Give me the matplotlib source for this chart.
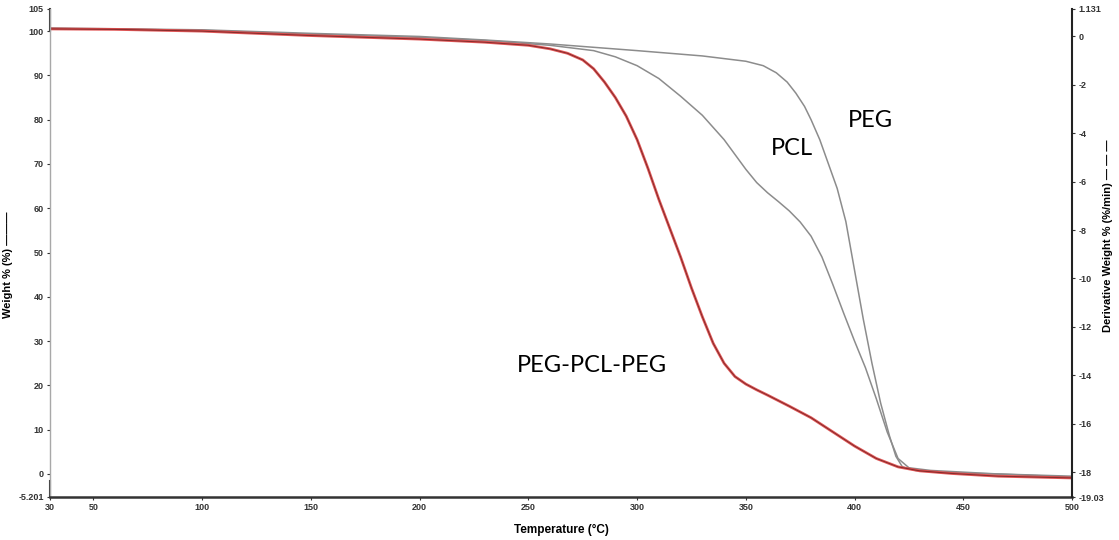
import numpy as np
import matplotlib
matplotlib.use("Agg")
import matplotlib.pyplot as plt

plt.rcParams['font.family'] = ['Liberation Sans', 'DejaVu Sans']
plt.rcParams['axes.unicode_minus'] = False

# TGA weight loss curves, temperature (°C) vs weight (%)
t_copolymer = [30, 60, 100, 150, 200, 230, 250, 260, 268, 275, 280, 285, 290,
               295, 300, 305, 310, 315, 320, 325, 330, 335, 340, 345, 350, 355,
               360, 370, 380, 390, 400, 410, 420, 430, 445, 466, 500]
w_copolymer = [100.5, 100.4, 100.0, 99.0, 98.2, 97.5, 96.8, 96.0, 95.0, 93.5,
               91.5, 88.5, 85.0, 80.8, 75.5, 69.0, 62.0, 55.5, 49.0, 42.0, 35.5,
               29.5, 25.0, 22.0, 20.3, 19.0, 17.8, 15.3, 12.7, 9.5, 6.3, 3.5,
               1.6, 0.7, 0.1, -0.5, -0.9]

t_pcl = [30, 100, 150, 200, 230, 260, 280, 290, 300, 310, 320, 330, 340, 350,
         355, 360, 365, 370, 375, 380, 385, 390, 395, 400, 405, 410, 415, 420,
         425, 435, 466, 500]
w_pcl = [100.6, 100.2, 99.3, 98.6, 97.9, 96.8, 95.6, 94.2, 92.2, 89.3, 85.3,
         81.0, 75.5, 68.8, 65.8, 63.5, 61.5, 59.4, 56.9, 53.7, 49.0, 42.8,
         36.3, 30.0, 24.0, 17.0, 9.5, 3.5, 1.4, 0.8, 0.0, -0.7]

t_peg = [30, 100, 150, 200, 230, 260, 300, 330, 350, 358, 364, 369, 373, 377,
         380, 384, 388, 392, 396, 400, 404, 408, 412, 416, 419, 422, 428, 440,
         466, 500]
w_peg = [100.7, 100.3, 99.5, 98.8, 98.0, 97.1, 95.6, 94.4, 93.2, 92.2, 90.6,
         88.5, 86.0, 83.0, 80.0, 75.5, 70.0, 64.5, 57.0, 46.0, 35.0, 25.0,
         16.0, 8.7, 4.0, 1.6, 0.8, 0.3, 0.0, -0.5]

x_ticks = [30, 50, 100, 150, 200, 250, 300, 350, 400, 450, 500]
w_ticks = [-5.201, 0, 10, 20, 30, 40, 50, 60, 70, 80, 90, 100, 105]
w_labels = ['-5.201', '0', '10', '20', '30', '40', '50', '60', '70', '80', '90', '100', '105']
d_ticks = [-19.03, -18, -16, -14, -12, -10, -8, -6, -4, -2, 0, 1.131]
d_labels = ['-19.03', '-18', '-16', '-14', '-12', '-10', '-8', '-6', '-4', '-2', '0', '1.131']

fig = plt.figure(figsize=(11.19, 5.40), dpi=100)
ax = fig.add_axes([50 / 1119, 43 / 540, 1022 / 1119, 488 / 540])

ax.plot(t_peg, w_peg, color='#8c8c8c', lw=1.1)
ax.plot(t_pcl, w_pcl, color='#8c8c8c', lw=1.1)
ax.plot(t_copolymer, w_copolymer, color='#dd4444', lw=2.0, alpha=0.9)
ax.plot(t_copolymer, w_copolymer, color='#7a2626', lw=0.6)

ax.set_xlim(30, 500)
ax.set_ylim(-5.201, 105)
ax.set_xticks(x_ticks)
ax.set_yticks(w_ticks)
ax.set_yticklabels(w_labels)

ax.spines['top'].set_visible(False)
ax.spines['right'].set_visible(False)
ax.spines['left'].set_color('#a8a8a8')
ax.spines['left'].set_linewidth(1.0)
ax.spines['bottom'].set_color('#333333')
ax.spines['bottom'].set_linewidth(1.8)

# axis-break marks at the ends of the weight axis
ax.plot([30, 30], [100, 105], color='#333333', lw=1.5, clip_on=False)
ax.plot([30, 30], [-5.201, -1.5], color='#333333', lw=1.5, clip_on=False)

ax.tick_params(axis='both', direction='out', length=2.5, width=0.8,
               labelsize=6.5, pad=2, colors='#333333')
for lbl in ax.get_xticklabels() + ax.get_yticklabels():
    lbl.set_fontweight('bold')

ax2 = ax.twinx()
ax2.set_ylim(-19.03, 1.131)
ax2.set_yticks(d_ticks)
ax2.set_yticklabels(d_labels)
for side in ['top', 'left', 'bottom']:
    ax2.spines[side].set_visible(False)
ax2.spines['right'].set_color('#222222')
ax2.spines['right'].set_linewidth(1.5)
ax2.tick_params(axis='y', direction='out', length=2.5, width=0.8,
                labelsize=6.5, pad=2, colors='#333333')
for lbl in ax2.get_yticklabels():
    lbl.set_fontweight('bold')

ax.set_xlabel('Temperature (°C)', fontsize=8.5, fontweight='bold')
ax.xaxis.set_label_coords(0.5, -0.055)
ax.set_ylabel('Weight % (%) ———', fontsize=8, fontweight='bold')
ax.yaxis.set_label_coords(-0.036, 0.475)
ax2.set_ylabel('Derivative Weight % (%/min) — — —', fontsize=8,
               fontweight='bold', rotation=90)
ax2.yaxis.set_label_coords(1.030, 0.535)

label_font = ['Lato', 'DejaVu Sans']
ax.text(279, 24.6, 'PEG-PCL-PEG', fontsize=17, family=label_font,
        ha='center', va='center')
ax.text(371.3, 73.6, 'PCL', fontsize=17, family=label_font,
        ha='center', va='center')
ax.text(407.1, 79.9, 'PEG', fontsize=17, family=label_font,
        ha='center', va='center')

fig.savefig('out.png', dpi=100)
